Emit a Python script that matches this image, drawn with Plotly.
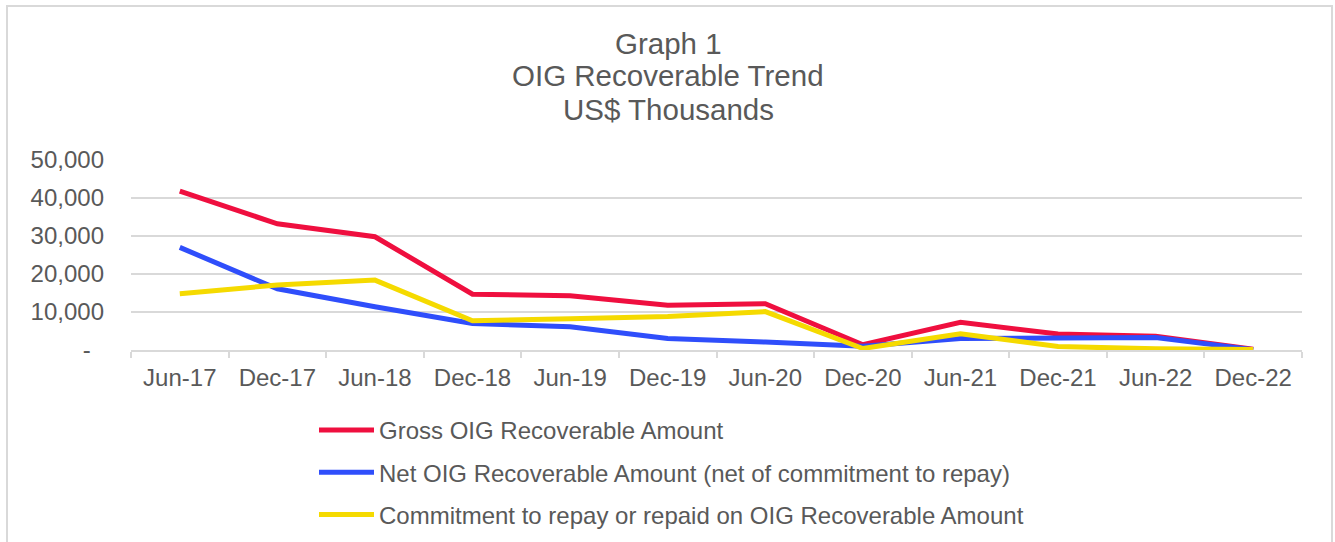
import plotly.graph_objects as go

categories = ["Jun-17", "Dec-17", "Jun-18", "Dec-18", "Jun-19", "Dec-19",
              "Jun-20", "Dec-20", "Jun-21", "Dec-21", "Jun-22", "Dec-22"]
gross = [41800, 33200, 29800, 14700, 14300, 11800, 12200, 1400, 7300, 4200, 3600, 200]
net = [27000, 16100, 11400, 7000, 6100, 3000, 2100, 1000, 3000, 3300, 3300, 100]
commit = [14800, 17100, 18400, 7700, 8200, 8800, 10100, 400, 4300, 900, 300, 100]

series_names = ["Gross OIG Recoverable Amount",
                "Net OIG Recoverable Amount (net of commitment to repay)",
                "Commitment to repay or repaid on OIG Recoverable Amount"]
series_colors = ["#EF0F3F", "#2F4EFB", "#F5DA00"]

y_tickvals = [0, 10000, 20000, 30000, 40000, 50000]
y_ticktext = ["-\u00a0\u00a0", "10,000", "20,000", "30,000", "40,000", "50,000"]

title_lines = ["Graph 1", "OIG Recoverable Trend", "US$ Thousands"]

FONT = "Liberation Sans, Arial, sans-serif"
GRAY = "#595959"
GRID = "#D9D9D9"

W, H = 1335, 542
L, R, T, B = 131, 33, 160, 192
plot_h = H - T - B
plot_w = W - L - R

fig = go.Figure()
for name, vals, col in zip(series_names, [gross, net, commit], series_colors):
    fig.add_trace(go.Scatter(x=categories, y=vals, mode="lines", name=name,
                             legendgroup=name,
                             line=dict(color=col, width=5)))

def px_to_paper_y(ypx):
    return (H - B - ypx) / plot_h

def px_to_paper_x(xpx):
    return (xpx - L) / plot_w

annotations = []
for txt, ypx in zip(title_lines, [43, 75.5, 109]):
    annotations.append(dict(text=txt, xref="paper", yref="paper",
                            x=px_to_paper_x(668), y=px_to_paper_y(ypx),
                            xanchor="center", yanchor="middle", showarrow=False,
                            font=dict(family=FONT, size=29.5, color=GRAY)))

fig.update_layout(
    width=W, height=H,
    margin=dict(l=L, r=R, t=T, b=B, autoexpand=False),
    paper_bgcolor="white", plot_bgcolor="white",
    font=dict(family=FONT, color=GRAY, size=24),
    showlegend=True,
    legend=dict(x=px_to_paper_x(314), y=px_to_paper_y(408), xanchor="left", yanchor="top",
                orientation="v", traceorder="grouped", tracegroupgap=8,
                itemwidth=55,
                font=dict(family=FONT, size=24, color=GRAY),
                bgcolor="rgba(0,0,0,0)"),
    annotations=annotations,
    shapes=[dict(type="rect", xref="paper", yref="paper",
                 x0=px_to_paper_x(7), x1=px_to_paper_x(1332),
                 y0=px_to_paper_y(600), y1=px_to_paper_y(6),
                 line=dict(color=GRID, width=2), fillcolor="rgba(0,0,0,0)",
                 layer="below")],
)

fig.update_xaxes(type="category", range=[-0.5, 11.5], tickson="boundaries",
                 ticks="outside", ticklen=6, tickcolor=GRID, tickwidth=1.5,
                 showline=True, linecolor=GRID, linewidth=1.5,
                 showgrid=False, zeroline=False, ticklabelstandoff=5,
                 tickfont=dict(family=FONT, size=24, color=GRAY))
fig.update_yaxes(range=[0, 50000], tickvals=y_tickvals, ticktext=y_ticktext,
                 showgrid=True, gridcolor=GRID, gridwidth=1.5,
                 zeroline=False, showline=False, ticks="",
                 ticklabelstandoff=26,
                 tickfont=dict(family=FONT, size=24, color=GRAY))

fig.write_html("out.html", config={"displayModeBar": False},
               post_script="document.body.style.margin='0';document.body.style.overflow='hidden';")
